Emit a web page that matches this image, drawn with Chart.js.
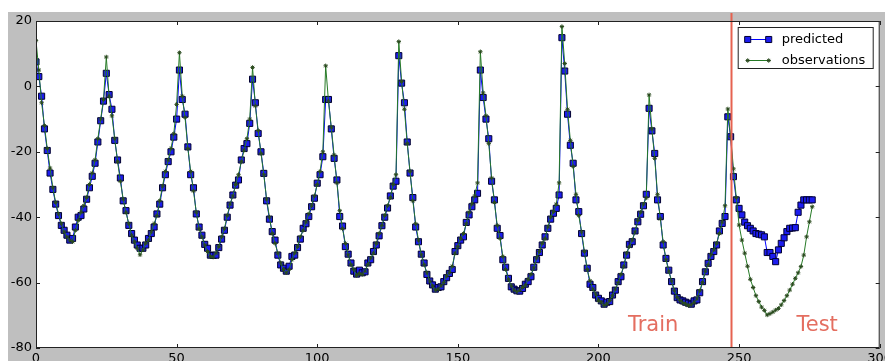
<!DOCTYPE html>
<html>
<head>
<meta charset="utf-8">
<script src="https://cdn.jsdelivr.net/npm/chart.js@4.4.0/dist/chart.umd.min.js"></script>
<style>
  html, body { margin:0; padding:0; background:#fff; }
  #wrap { position:absolute; left:8px; top:12px; width:877px; height:349px; background:#bfbfbf; }
</style>
</head>
<body>
<div id="wrap"><canvas id="c" width="877" height="349"></canvas></div>
<script>
// one value per time step
const predicted = [
  7.5, 3, -3, -13, -19.6, -26.5, -31.5, -36, -39.5, -42.5,
  -44, -45.5, -47, -46.5, -43, -40, -39.5, -37.5, -34.5, -31,
  -27.5, -23.5, -17, -10.5, -4.5, 4, -2.5, -7, -16.5, -22.5,
  -28, -35, -38, -42.5, -45, -47, -48.5, -49.5, -49.5, -48.5,
  -46.5, -45, -43, -39, -36, -31, -27, -23, -20, -15.5,
  -10, 5, -4, -8.5, -18.5, -27, -31, -39, -43, -45.5,
  -48.3, -49.5, -51.6, -51.7, -51.6, -49.3, -46.7, -44, -40, -36.3,
  -33.2, -30.2, -28.6, -22.5, -19, -17.5, -11.3, 2.2, -5, -14.4,
  -20, -26.6, -35, -40.6, -44.4, -47, -51.6, -54.6, -55.6, -56.5,
  -55, -52, -51.6, -49.3, -46.7, -43.4, -42, -39.8, -36.8, -34.2,
  -29.6, -27, -21.5, -4, -4, -13, -22, -28.6, -39.8, -42.7,
  -49, -51.3, -54, -56.5, -57.4, -56.2, -57, -56.7, -54, -53,
  -50.5, -48.5, -45.7, -42.6, -40, -37.2, -33.5, -30.5, -29, 9.4,
  1, -5, -17, -26.5, -34, -43, -47.5, -51.3, -54, -57.5,
  -59.5, -60.7, -62, -61.5, -61.3, -59.7, -58.5, -57.2, -56, -50.5,
  -48.7, -47, -46, -41.6, -39.3, -36.8, -34.7, -32.7, 5, -3.4,
  -10, -16, -29, -34.7, -43.4, -45.6, -53, -55.3, -58.7, -61.3,
  -62, -62.5, -62.6, -61.8, -60.5, -59.7, -58.2, -55.3, -53, -50.8,
  -48.5, -46, -43.4, -40.6, -38.8, -37.3, -33.2, 14.9, 4.7, -8.5,
  -18, -23.5, -34.7, -38.3, -45, -51, -55.6, -60.5, -61.5, -63.8,
  -64.8, -65.6, -66.6, -66, -65.8, -63.8, -62.3, -59.7, -58.2, -54.6,
  -51.6, -48.3, -47.5, -44.2, -41.4, -39.1, -36.5, -33, -6.7, -13.6,
  -20.5, -34.7, -39.8, -48.5, -52.6, -56.2, -59.7, -62.6, -64.6, -65.3,
  -65.6, -66, -66.3, -66.6, -65.6, -65.3, -63.1, -59.7, -56.7, -54.1,
  -52, -50.5, -48.5, -44.2, -41.9, -39.8, -9.3, -15.4, -27.6, -34.7,
  -37.3, -39.3, -41.5, -42.6, -43.4, -44.2, -45, -45.2, -45.4, -46,
  -50.8, -50.8, -52, -53.6, -50, -48, -46.3, -44.4, -43.4, -43.3,
  -43.2, -38.5, -36.3, -34.7, -34.7, -34.7, -34.7
];
const observations = [
  14, 5, -5, -12, -19, -25, -31, -35.5, -39, -42,
  -44.5, -46, -47, -47.5, -44, -41, -38.5, -36.5, -34, -30,
  -26.5, -22.5, -16, -10, -4, 9, -3, -9, -16, -23,
  -29, -34.5, -38.5, -42, -45.5, -47.5, -49.5, -51.5, -50, -48,
  -47, -44.5, -42, -39.5, -35, -30.5, -26, -22.5, -19, -14.5,
  -5.5, 10.3, -3, -9.5, -19, -26, -32, -38.5, -43.5, -46,
  -48.5, -50.5, -52, -52.2, -51, -49, -46, -43.5, -39.5, -36,
  -33.5, -30, -27, -23, -19.5, -16, -10, 5.8, -6, -13.5,
  -20.5, -27, -34.5, -40, -45, -48, -51, -54, -56, -57,
  -56, -53, -51, -49, -46, -44, -41.5, -39, -36.5, -33.5,
  -30, -26, -20, 6.3, -4.5, -12.5, -21, -29.5, -38, -43.5,
  -48, -51.5, -54.5, -56, -57.8, -57.2, -57.5, -56.5, -54.5, -52.5,
  -51, -48, -45, -42.5, -39.5, -36.5, -34, -30, -27, 13.7,
  1.5, -7, -17.5, -26, -35, -42, -47, -51.5, -54.5, -57,
  -59.5, -61, -62.3, -62, -61, -60, -58, -57, -55, -51,
  -49, -46.5, -45, -42, -38.5, -36, -33.5, -29.5, 10.6, -2,
  -9, -17.5, -28, -35.5, -42.5, -46.5, -52, -56, -59, -61,
  -62.3, -62.8, -62.3, -61.5, -60.8, -59, -57.5, -55.5, -52.5, -50.5,
  -48, -46.5, -43, -40, -38.3, -36, -29.5, 18.3, 7, -7,
  -16.5, -24.5, -33, -39.5, -44.5, -50.5, -56, -59.5, -62, -63.5,
  -65.5, -66, -67, -66.5, -65.5, -64, -62, -60, -57.5, -55,
  -51, -49, -47, -44.5, -41, -38.5, -36, -34.1, -2.6, -13,
  -22, -33, -40.5, -47.5, -53, -56.5, -59.5, -62.5, -64.5, -65.5,
  -66.2, -66.5, -67, -66.8, -66, -65, -62.5, -60, -56.5, -54.5,
  -51.5, -50, -48, -45, -41.5, -36.5, -6.9, -15.4, -25.2, -34,
  -42.4, -47, -51, -55, -59, -61.5, -64, -65.8, -67.5, -68.5,
  -69.9, -69.5, -69, -68.4, -67.9, -66.8, -65.5, -64, -62.3, -60.5,
  -58.7, -57, -55.1, -51.6, -46, -41.4, -36.8
];
const xTicks = [0, 50, 100, 150, 200, 250, 300];
const yTicks = [-80, -60, -40, -20, 0, 20];
const seriesNames = ['predicted', 'observations'];
const splitAt = 247;          // train / test boundary
const regionLabels = [{ text: 'Train', x: 210.5 }, { text: 'Test', x: 270.4 }];
const regionLabelY = -74.8;

const FONT = '"DejaVu Sans", "Bitstream Vera Sans", sans-serif';
const SPLIT = 'rgb(230,98,80)';

const toPts = (arr) => arr.map((v, i) => ({ x: i, y: v }));

// white axes, black frame, inward ticks, split line, texts, legend
const decor = {
  id: 'decor',
  beforeDraw(chart){
    const { ctx, chartArea: a } = chart;
    ctx.save();
    ctx.fillStyle = '#fff';
    ctx.fillRect(a.left, a.top, a.width, a.height);
    ctx.restore();
  },
  afterDatasetsDraw(chart){
    const { ctx, chartArea: a, scales: { x, y } } = chart;
    ctx.save();
    const sx = Math.round(x.getPixelForValue(splitAt)) + 0.5;
    ctx.strokeStyle = SPLIT; ctx.lineWidth = 2;
    ctx.beginPath(); ctx.moveTo(sx, a.top - 8); ctx.lineTo(sx, a.bottom); ctx.stroke();

    ctx.fillStyle = 'rgb(228,110,96)';
    ctx.font = '21px ' + FONT;
    ctx.textBaseline = 'alphabetic';
    regionLabels.forEach(l => ctx.fillText(l.text, x.getPixelForValue(l.x), y.getPixelForValue(regionLabelY)));

    ctx.strokeStyle = '#222'; ctx.lineWidth = 1;
    ctx.strokeRect(a.left + 0.5, a.top + 0.5, a.width - 1, a.height - 1);
    ctx.beginPath();
    xTicks.forEach(v => {
      const px = Math.round(x.getPixelForValue(v)) + 0.5;
      ctx.moveTo(px, a.bottom); ctx.lineTo(px, a.bottom - 4);
      ctx.moveTo(px, a.top); ctx.lineTo(px, a.top + 4);
    });
    yTicks.forEach(v => {
      const py = Math.round(y.getPixelForValue(v)) + 0.5;
      ctx.moveTo(a.left, py); ctx.lineTo(a.left + 4, py);
      ctx.moveTo(a.right, py); ctx.lineTo(a.right - 4, py);
    });
    ctx.stroke();
    ctx.restore();
  },
  afterDraw(chart){
    const { ctx, chartArea: a } = chart;
    const w = 136, h = 42;
    const bx = a.right - 6 - w, by = a.top + 6;
    ctx.save();
    ctx.fillStyle = '#fff';
    ctx.fillRect(bx, by, w, h);
    ctx.strokeStyle = '#222'; ctx.lineWidth = 1;
    ctx.strokeRect(bx + 0.5, by + 0.5, w - 1, h - 1);
    ctx.font = '13px ' + FONT;
    ctx.textBaseline = 'middle';
    seriesNames.forEach((name, i) => {
      const ds = chart.data.datasets.find(d => d.label === name);
      const ly = by + 12 + i * 21;
      const x0 = bx + 10, x1 = bx + 31;
      ctx.strokeStyle = ds.borderColor; ctx.lineWidth = 1;
      ctx.beginPath(); ctx.moveTo(x0, ly + 0.5); ctx.lineTo(x1, ly + 0.5); ctx.stroke();
      [x0, x1].forEach(px => {
        ctx.fillStyle = ds.pointBackgroundColor;
        ctx.strokeStyle = ds.pointBorderColor;
        ctx.lineWidth = ds.pointBorderWidth;
        Chart.helpers.drawPoint(ctx, {
          pointStyle: ds.pointStyle, radius: ds.pointRadius, borderWidth: ds.pointBorderWidth, rotation: 0
        }, px, ly + 0.5);
      });
      ctx.fillStyle = '#000';
      ctx.fillText(name, bx + 44, ly + 1);
    });
    ctx.restore();
  }
};

new Chart(document.getElementById('c'), {
  type: 'line',
  data: {
    datasets: [
      {
        label: seriesNames[0],
        data: toPts(predicted),
        borderColor: '#0000ff', borderWidth: 1,
        pointStyle: 'rect', pointRadius: 4.3,
        pointBackgroundColor: '#1c1cf0', pointBorderColor: '#000030', pointBorderWidth: 1,
        order: 1
      },
      {
        label: seriesNames[1],
        data: toPts(observations),
        borderColor: '#267a26', borderWidth: 1,
        pointStyle: 'star', pointRadius: 2.2,
        pointBackgroundColor: '#2a4a1a', pointBorderColor: '#2a4a1e', pointBorderWidth: 1,
        order: 0
      }
    ]
  },
  options: {
    responsive: false,
    animation: false,
    devicePixelRatio: 1,
    layout: { padding: { top: 9, right: 5, left: 0, bottom: 0 } },
    elements: { line: { tension: 0 } },
    plugins: { legend: { display: false }, tooltip: { enabled: false } },
    scales: {
      x: {
        type: 'linear', min: 0, max: 300,
        afterBuildTicks: s => { s.ticks = xTicks.map(v => ({ value: v })); },
        // the 300 label is allowed to run off the right edge, as in the picture
        afterFit: s => { s.height = 13; s.paddingLeft = 0; s.paddingRight = 0; },
        grid: { display: false, drawTicks: false },
        border: { display: false },
        ticks: { color: '#000', font: { family: FONT, size: 13 }, padding: 3, maxRotation: 0 }
      },
      y: {
        min: -80, max: 20,
        afterBuildTicks: s => { s.ticks = yTicks.map(v => ({ value: v })); },
        afterFit: s => { s.width = 28; s.paddingTop = 0; s.paddingBottom = 0; },
        grid: { display: false, drawTicks: false },
        border: { display: false },
        ticks: { color: '#000', font: { family: FONT, size: 13 }, padding: 4 }
      }
    }
  },
  plugins: [decor]
});
</script>
</body>
</html>
